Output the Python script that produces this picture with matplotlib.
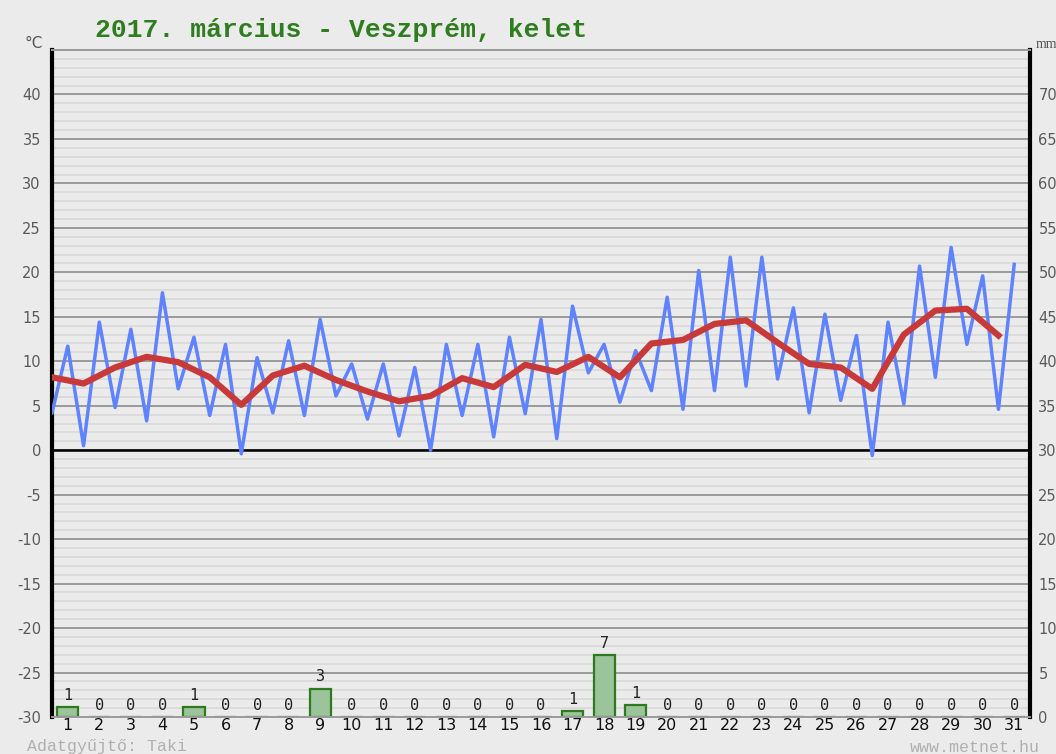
import numpy as np
import matplotlib
matplotlib.use("Agg")
import matplotlib.pyplot as plt

# 2017 March, Veszprem - half-daily temperatures, daily means, precipitation
days = list(range(1, 32))
half_day_temps = [4.2, 11.7, 0.5, 14.4, 4.8, 13.6, 3.3, 17.7, 6.9, 12.7,
                  3.9, 11.9, -0.4, 10.4, 4.2, 12.3, 3.9, 14.7, 6.1, 9.7,
                  3.5, 9.7, 1.6, 9.3, 0.0, 11.9, 3.9, 11.9, 1.5, 12.7,
                  4.1, 14.7, 1.3, 16.2, 8.7, 11.9, 5.4, 11.2, 6.7, 17.2,
                  4.6, 20.2, 6.7, 21.7, 7.2, 21.7, 8.0, 16.0, 4.2, 15.3,
                  5.6, 12.9, -0.6, 14.4, 5.2, 20.7, 8.2, 22.8, 11.9, 19.6,
                  4.6, 20.9]
daily_means = [8.2, 7.5, 9.3, 10.5, 9.9, 8.2, 5.1, 8.4, 9.5, 7.9,
               6.6, 5.5, 6.1, 8.1, 7.1, 9.6, 8.8, 10.5, 8.2, 12.0,
               12.4, 14.2, 14.6, 12.1, 9.7, 9.3, 6.9, 13.0, 15.7, 15.9,
               12.9]
precip_mm = [1.1, 0, 0, 0, 1.1, 0, 0, 0, 3.2, 0,
             0, 0, 0, 0, 0, 0, 0.7, 7.0, 1.3, 0,
             0, 0, 0, 0, 0, 0, 0, 0, 0, 0,
             0]

title = "2017. március - Veszprém, kelet"
bg = "#ebebeb"


def plot_chart(filename):
    fig = plt.figure(figsize=(10.56, 7.54), dpi=100, facecolor=bg)
    ax = fig.add_axes([52 / 1056, 1 - 717 / 754, 978 / 1056, 667 / 754])
    ax.set_facecolor(bg)
    ax.set_xlim(0.5, 31.5)
    ax.set_ylim(-30, 45)

    # grid
    for t in range(-29, 45):
        if t % 5 == 0:
            continue
        ax.axhline(t, color="#dadada", lw=1.3, zorder=0)
    for t in range(-25, 45, 5):
        ax.axhline(t, color="#9a9a9a", lw=1.4, zorder=0)
    ax.axhline(0, color="black", lw=1.8, zorder=1)

    # precipitation bars (mm axis = temp + 30)
    base = -30
    ax.bar(days, precip_mm, bottom=base, width=0.67, color="#9cc49a",
           edgecolor="#2d7a1f", lw=1.6, zorder=2)
    for d, p in zip(days, precip_mm):
        ax.annotate(str(int(round(p))), (d, base + p), xytext=(0, 3),
                    textcoords="offset points", ha="center", va="bottom",
                    fontsize=11, family="DejaVu Sans Mono", color="#222222")

    half_x = 0.5 + 0.5 * np.arange(len(half_day_temps))
    ax.plot(half_x, half_day_temps, color="#5f82ff", lw=2.5, zorder=3)
    mean_x = 0.5 + np.arange(len(daily_means))
    ax.plot(mean_x, daily_means, color="#c83a3a", lw=4.5, zorder=4,
            solid_joinstyle="round")

    # axes
    ax.set_xticks(days)
    ax.set_xticklabels([str(d) for d in days], fontsize=11.5, color="#111111")
    ax.tick_params(axis="x", length=0, pad=1)
    ax.set_yticks(range(-30, 45, 5))
    ax.set_yticklabels([str(t) for t in range(-30, 45, 5)], fontsize=10.5,
                       color="#5a5a5a")
    ax.tick_params(axis="y", length=0, pad=8)
    for side in ["top", "bottom"]:
        ax.spines[side].set_color("#9a9a9a")
        ax.spines[side].set_linewidth(1.4)
    ax.spines["left"].set_linewidth(3)
    ax.spines["left"].set_color("black")
    ax.spines["right"].set_linewidth(3)
    ax.spines["right"].set_color("black")

    ax2 = ax.twinx()
    ax2.set_ylim(0, 75)
    ax2.set_yticks(range(0, 75, 5))
    ax2.set_yticklabels([str(m) for m in range(0, 75, 5)], fontsize=10.5,
                        color="#5a5a5a")
    ax2.tick_params(axis="y", length=0, pad=6)
    for s in ax2.spines.values():
        s.set_visible(False)

    fig.text(95 / 1056, 1 - 30 / 754, title, fontsize=19, fontweight="bold",
             family="Liberation Mono", color="#2e7d1e", va="center", ha="left")
    fig.text(25 / 1056, 1 - 43 / 754, "°C", fontsize=11, color="#555555",
             va="center", ha="left")
    fig.text(1036 / 1056, 1 - 45 / 754, "mm", fontsize=10, color="#555555",
             va="center", ha="left", family="Liberation Serif")
    fig.text(27 / 1056, 1 - 747 / 754, "Adatgyűjtő: Taki", fontsize=12,
             family="Liberation Mono", color="#b0b0b0", va="center", ha="left")
    fig.text(1040 / 1056, 1 - 747 / 754, "www.metnet.hu", fontsize=12,
             family="Liberation Mono", color="#b0b0b0", va="center", ha="right")

    fig.savefig(filename, dpi=100, facecolor=bg)


def main():
    plot_chart("out.png")


if __name__ == "__main__":
    main()
